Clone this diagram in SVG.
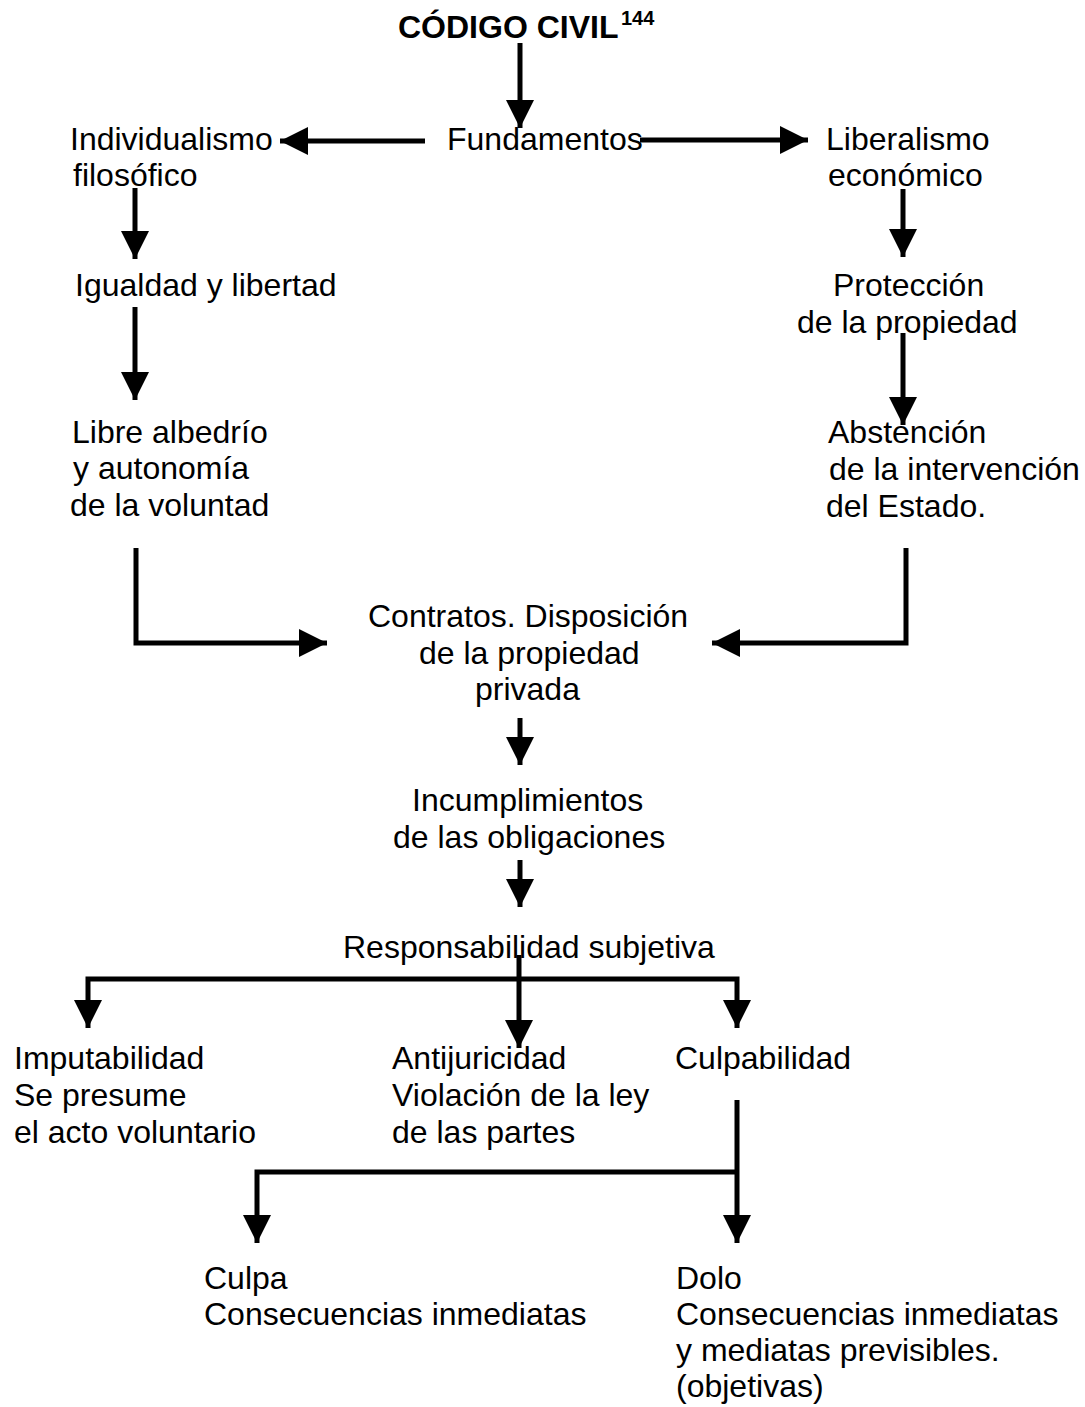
<svg xmlns="http://www.w3.org/2000/svg" width="1085" height="1407" viewBox="0 0 1085 1407">
<style>
.t{font-family:"Liberation Sans",Arial,sans-serif;font-size:32px;fill:#000}
.b{font-weight:bold}
.sup{font-family:"Liberation Sans",Arial,sans-serif;font-size:20px;font-weight:bold;fill:#000}
.c{fill:none;stroke:#000;stroke-width:5;stroke-linecap:butt;stroke-linejoin:miter}
</style>
<defs>
<marker id="ah" markerUnits="userSpaceOnUse" markerWidth="28" markerHeight="28" viewBox="0 0 26 26" refX="26" refY="13" orient="auto">
<path d="M0,0 L26,13 L0,26 Z" fill="#000"/>
</marker>
</defs>
<rect width="1085" height="1407" fill="#fff"/>
<g id="connectors">
<path class="c" d="M520,43 V128" marker-end="url(#ah)"/>
<path class="c" d="M425,141 H280" marker-end="url(#ah)"/>
<path class="c" d="M640,140 H808" marker-end="url(#ah)"/>
<path class="c" d="M135,188 V259" marker-end="url(#ah)"/>
<path class="c" d="M135,307 V400" marker-end="url(#ah)"/>
<path class="c" d="M903,189 V257" marker-end="url(#ah)"/>
<path class="c" d="M903,333 V425" marker-end="url(#ah)"/>
<path class="c" d="M136,548 V643 H327" marker-end="url(#ah)"/>
<path class="c" d="M906,548 V643 H712" marker-end="url(#ah)"/>
<path class="c" d="M520,718 V765" marker-end="url(#ah)"/>
<path class="c" d="M520,860 V907" marker-end="url(#ah)"/>
<path class="c" d="M519,955 V1048" marker-end="url(#ah)"/>
<path class="c" d="M519,979 H88 V1028" marker-end="url(#ah)"/>
<path class="c" d="M519,979 H737 V1028" marker-end="url(#ah)"/>
<path class="c" d="M737,1100 V1243" marker-end="url(#ah)"/>
<path class="c" d="M737,1172 H257 V1243" marker-end="url(#ah)"/>
</g>
<g id="n-codigo">
<text class="t b" x="398" y="38">CÓDIGO CIVIL</text>
<text class="sup" x="621" y="25">144</text>
</g>
<g id="n-fundamentos"><text class="t" x="447" y="150">Fundamentos</text></g>
<g id="n-individualismo">
<text class="t" x="70" y="150">Individualismo</text>
<text class="t" x="73" y="186">filosófico</text>
</g>
<g id="n-liberalismo">
<text class="t" x="826" y="150">Liberalismo</text>
<text class="t" x="828" y="186">económico</text>
</g>
<g id="n-igualdad"><text class="t" x="75" y="296">Igualdad y libertad</text></g>
<g id="n-libre">
<text class="t" x="72" y="443">Libre albedrío</text>
<text class="t" x="73" y="479">y autonomía</text>
<text class="t" x="70" y="516">de la voluntad</text>
</g>
<g id="n-proteccion">
<text class="t" x="833" y="296">Protección</text>
<text class="t" x="797" y="333">de la propiedad</text>
</g>
<g id="n-abstencion">
<text class="t" x="828" y="443">Abstención</text>
<text class="t" x="829" y="480">de la intervención</text>
<text class="t" x="826" y="517">del Estado.</text>
</g>
<g id="n-contratos">
<text class="t" x="368" y="627">Contratos. Disposición</text>
<text class="t" x="419" y="664">de la propiedad</text>
<text class="t" x="475" y="700">privada</text>
</g>
<g id="n-incumplimientos">
<text class="t" x="412" y="811">Incumplimientos</text>
<text class="t" x="393" y="848">de las obligaciones</text>
</g>
<g id="n-responsabilidad"><text class="t" x="343" y="958">Responsabilidad subjetiva</text></g>
<g id="n-imputabilidad">
<text class="t" x="14" y="1069">Imputabilidad</text>
<text class="t" x="14" y="1106">Se presume</text>
<text class="t" x="14" y="1143">el acto voluntario</text>
</g>
<g id="n-antijuricidad">
<text class="t" x="392" y="1069">Antijuricidad</text>
<text class="t" x="392" y="1106">Violación de la ley</text>
<text class="t" x="392" y="1143">de las partes</text>
</g>
<g id="n-culpabilidad"><text class="t" x="675" y="1069">Culpabilidad</text></g>
<g id="n-culpa">
<text class="t" x="204" y="1289">Culpa</text>
<text class="t" x="204" y="1325">Consecuencias inmediatas</text>
</g>
<g id="n-dolo">
<text class="t" x="676" y="1289">Dolo</text>
<text class="t" x="676" y="1325">Consecuencias inmediatas</text>
<text class="t" x="676" y="1361">y mediatas previsibles.</text>
<text class="t" x="676" y="1397">(objetivas)</text>
</g>
</svg>
